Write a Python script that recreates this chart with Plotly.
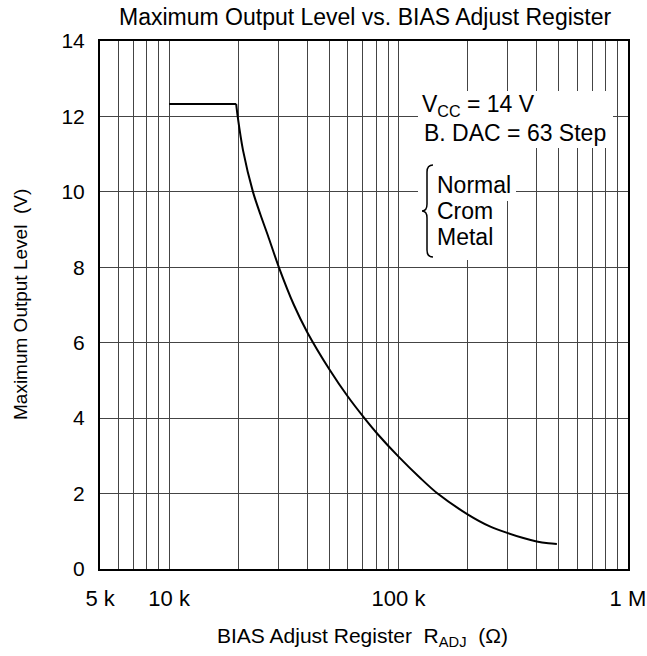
import math
import plotly.graph_objects as go

# ---- data ----
r_kohm = [10, 19.6, 19.9, 21, 23.2, 25, 27, 30.1, 35, 40, 50, 60, 71, 81, 100,
          125, 148, 200, 250, 300, 350, 400, 450, 490]
v_out = [12.33, 12.33, 12.0, 11.1, 10.0, 9.4, 8.83, 8.0, 7.0, 6.28, 5.29, 4.58, 4.0, 3.58, 2.98,
         2.4, 2.0, 1.45, 1.13, 0.95, 0.82, 0.73, 0.68, 0.66]

x_tickvals = [5000, 10000, 100000, 1000000]
x_ticktext = ["5 k", "10 k", "100 k", "1 M"]
y_tickvals = [0, 2, 4, 6, 8, 10, 12, 14]
minor_vals = [6000, 7000, 8000, 9000,
              20000, 30000, 40000, 50000, 60000, 70000, 80000, 90000,
              200000, 300000, 400000, 500000, 600000, 700000, 800000, 900000]

FONT = "Liberation Sans, Arial, Helvetica, sans-serif"
W, H = 647, 656
PL, PR, PT, PB = 100, 628, 41, 569   # plot-area edges in page pixels
ML, MR, MT, MB = PL, W - PR, PT, H - PB
PW, PH = PR - PL, PB - PT


def px(x):
    return (x - PL) / PW


def py(y):
    return (PB - y) / PH


x_ohm = [r * 1000 for r in r_kohm]
fig = go.Figure()
# flat (limited) part
fig.add_trace(go.Scatter(
    x=x_ohm[:2], y=v_out[:2], mode="lines",
    line=dict(color="black", width=2), showlegend=False, hoverinfo="skip"))
# falling part
fig.add_trace(go.Scatter(
    x=x_ohm[1:], y=v_out[1:], mode="lines",
    line=dict(color="black", width=2, shape="spline", smoothing=0.8),
    showlegend=False, hoverinfo="skip"))

grid_col = "#444444"
fig.update_xaxes(
    type="log", range=[math.log10(5000) - 0.0002, 6.0002],
    tickvals=x_tickvals, ticktext=x_ticktext,
    showgrid=True, gridcolor=grid_col, gridwidth=1.2,
    minor=dict(tickvals=minor_vals, showgrid=True, gridcolor=grid_col, gridwidth=1.2, ticks=""),
    showline=True, linecolor="black", linewidth=2, mirror=True, ticks="",
    ticklabelstandoff=9, tickfont=dict(family=FONT, size=22, color="black"),
    automargin=False, ticklabeloverflow="allow", zeroline=False)
fig.update_yaxes(
    range=[0, 14], tickvals=y_tickvals,
    showgrid=True, gridcolor=grid_col, gridwidth=1.2,
    showline=True, linecolor="black", linewidth=2, mirror=True, ticks="",
    ticklabelstandoff=9, tickfont=dict(family=FONT, size=21, color="black"),
    automargin=False, ticklabeloverflow="allow", zeroline=False)

# white boxes behind the in-plot labels
for x0, y0, x1, y1 in [(418, 91, 613, 148), (418, 148, 516, 201), (418, 201, 495, 260)]:
    fig.add_shape(type="rect", xref="paper", yref="paper",
                  x0=px(x0), x1=px(x1), y0=py(y1), y1=py(y0),
                  fillcolor="white", line=dict(width=0), layer="above")

# curly brace
pts = [(433, 165), (427, 165), (427, 172), (427, 204), (427, 211), (422, 211),
       (427, 211), (427, 218), (427, 250), (427, 257), (433, 257)]
p = [f"{px(a):.5f},{py(b):.5f}" for a, b in pts]
path = (f"M {p[0]} Q {p[1]} {p[2]} L {p[3]} Q {p[4]} {p[5]} "
        f"Q {p[6]} {p[7]} L {p[8]} Q {p[9]} {p[10]}")
fig.add_shape(type="path", xref="paper", yref="paper", path=path,
              line=dict(color="black", width=1.5), layer="above")

ann_font = dict(family=FONT, size=23, color="black")
labels = [
    ("V<sub>CC</sub> = 14 V", 421, 106),
    ("B. DAC = 63 Step", 423, 133),
    ("Normal", 436, 185),
    ("Crom", 436, 211),
    ("Metal", 436, 237),
]
for txt, x, y in labels:
    fig.add_annotation(text=txt, xref="paper", yref="paper", x=px(x), y=py(y),
                       xanchor="left", yanchor="middle", showarrow=False, font=ann_font,
                       borderpad=0)

# title and axis titles
fig.add_annotation(text="Maximum Output Level vs. BIAS Adjust Register", xref="paper", yref="paper",
                   x=px(365), y=py(17), xanchor="center", yanchor="middle", showarrow=False,
                   font=dict(family=FONT, size=23, color="black"), borderpad=0)
fig.add_annotation(text="BIAS Adjust Register&nbsp; R<sub>ADJ</sub>&nbsp; (Ω)", xref="paper", yref="paper",
                   x=px(362), y=py(637), xanchor="center", yanchor="middle", showarrow=False,
                   font=dict(family=FONT, size=21, color="black"), borderpad=0)
fig.add_annotation(text="Maximum Output Level&nbsp; (V)", xref="paper", yref="paper",
                   x=px(20), y=py(305), xanchor="center", yanchor="middle", showarrow=False,
                   textangle=-90, font=dict(family=FONT, size=19, color="black"), borderpad=0)

fig.update_layout(
    width=W, height=H, margin=dict(l=ML, r=MR, t=MT, b=MB, autoexpand=False),
    paper_bgcolor="white", plot_bgcolor="white", showlegend=False)

fig.write_html("out.html", config={"displayModeBar": False},
               post_script="document.body.style.margin='0px';")
